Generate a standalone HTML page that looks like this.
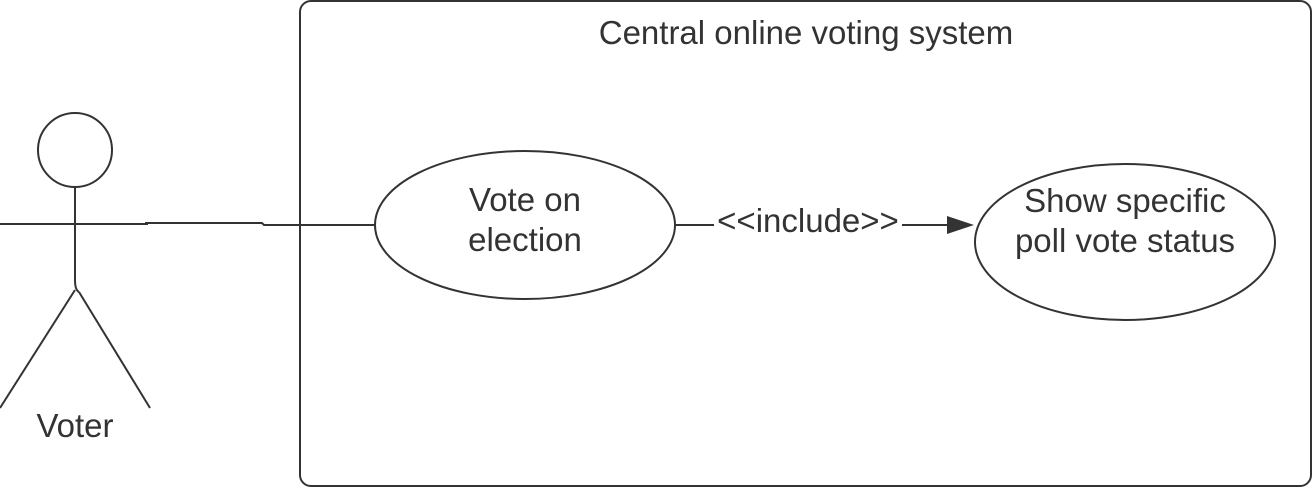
<!DOCTYPE html>
<html><head><meta charset="utf-8"><style>
html,body{margin:0;padding:0;background:#fff;}
svg{display:block;}
text{font-family:"Liberation Sans",Arial,sans-serif;fill:#333;}
</style></head><body>
<svg width="1313" height="488" viewBox="0 0 1313 488" xmlns="http://www.w3.org/2000/svg">
<g stroke="#333" stroke-width="2" fill="none">
<rect x="300" y="1" width="1011" height="485" rx="11"/>
<circle cx="75" cy="150" r="37"/>
<line x1="75" y1="187" x2="75" y2="280"/>
<path d="M75 280 Q75 290 79 292"/>
<line x1="0" y1="224" x2="148" y2="224"/>
<line x1="75" y1="290" x2="0" y2="408"/>
<line x1="79" y1="292" x2="150" y2="408"/>
<path d="M145 223 L262 223 L264 225 L375 225"/>
<ellipse cx="525" cy="225" rx="150" ry="74" fill="#fff"/>
<ellipse cx="1125" cy="242" rx="150" ry="78" fill="#fff"/>
<line x1="675" y1="225" x2="714" y2="225"/>
<line x1="902" y1="225" x2="950" y2="225"/>
</g>
<polygon points="947,216 974,225 947,234" fill="#333"/>
<text x="806" y="44" font-size="33" text-anchor="middle">Central online voting system</text>
<text x="75" y="437" font-size="33" text-anchor="middle">Voter</text>
<text x="525" y="211" font-size="33" text-anchor="middle" fill="#000">Vote on</text>
<text x="525" y="251" font-size="33" text-anchor="middle" fill="#000">election</text>
<text x="1125" y="212" font-size="33" text-anchor="middle" fill="#000">Show specific</text>
<text x="1125" y="252" font-size="33" text-anchor="middle" fill="#000">poll vote status</text>
<text x="808" y="232" font-size="33" text-anchor="middle">&lt;&lt;include&gt;&gt;</text>
</svg>
</body></html>
